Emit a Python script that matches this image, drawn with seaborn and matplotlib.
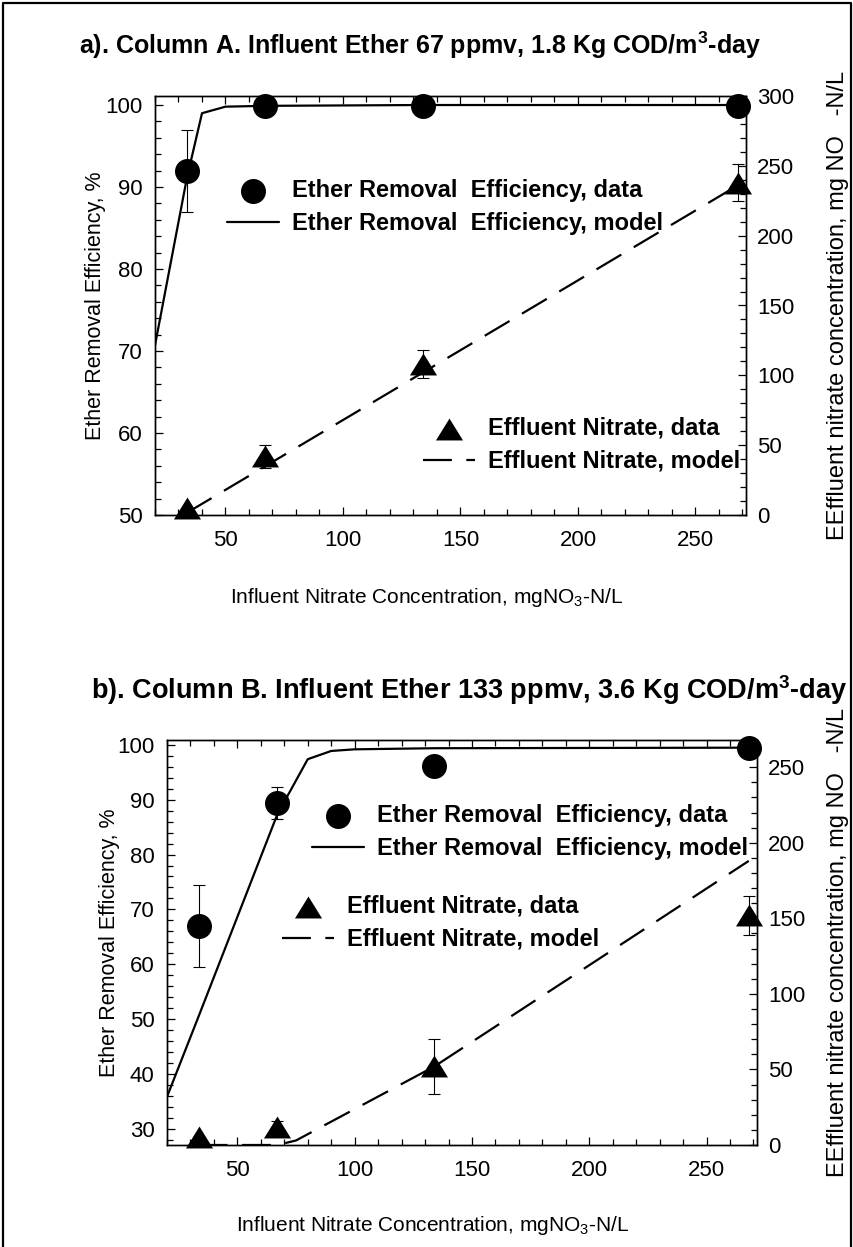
import numpy as np
import pandas as pd
import matplotlib
matplotlib.use("Agg")
import matplotlib.pyplot as plt
import seaborn as sns
from matplotlib.lines import Line2D
from matplotlib.ticker import MultipleLocator

sns.set_theme(style="white")
plt.rcParams["font.family"] = ["Liberation Sans", "DejaVu Sans"]
plt.rcParams["mathtext.fontset"] = "custom"
plt.rcParams["mathtext.rm"] = "Liberation Sans"
plt.rcParams["mathtext.it"] = "Liberation Sans:italic"
plt.rcParams["mathtext.bf"] = "Liberation Sans:bold"

# ---------------- data ----------------
influent = [33.5, 67, 134, 268]

# Panel a (Column A)
a_eff = [92.0, 99.9, 99.9, 99.9]
a_eff_err = [5.0, 0.0, 0.0, 0.0]
a_no3 = [5.0, 42.0, 108.0, 238.0]
a_no3_err = [0.0, 8.0, 10.0, 13.0]
a_model_eff_x = [20, 33.5, 40, 50, 67, 134, 268]
a_model_eff = [70.7, 91.0, 99.0, 99.8, 99.9, 100.0, 100.0]
a_model_no3_x = [33.5, 67, 134, 268]
a_model_no3 = [1.5, 35.0, 102.0, 236.0]

# Panel b (Column B)
b_eff = [67.0, 89.4, 96.2, 99.4]
b_eff_err = [7.5, 2.9, 0.0, 0.0]
b_no3 = [5.0, 12.0, 52.0, 152.0]
b_no3_err = [0.0, 4.0, 18.0, 13.0]
b_model_eff_x = [20, 33.5, 67, 80, 90, 100, 134, 268]
b_model_eff = [35.8, 50.5, 87.3, 97.4, 98.9, 99.2, 99.4, 99.5]
b_model_no3_x = [33.5, 67, 75, 134, 268]
b_model_no3 = [0.0, 0.0, 3.0, 52.0, 188.0]

titles = [
    r"a). Column A. Influent Ether 67 ppmv, 1.8 Kg COD/m$^{\mathbf{3}}$-day",
    r"b). Column B. Influent Ether 133 ppmv, 3.6 Kg COD/m$^{\mathbf{3}}$-day",
]
xlabel = r"Influent Nitrate Concentration, mgNO$_3$-N/L"
ylabel_left = "Ether Removal Efficiency, %"
ylabel_right = "EEffluent nitrate concentration, mg NO   -N/L"
lab_eff_data = "Ether Removal  Efficiency, data"
lab_eff_model = "Ether Removal  Efficiency, model"
lab_no3_data = "Effluent Nitrate, data"
lab_no3_model = "Effluent Nitrate, model"

# ---------------- figure ----------------
W, H = 854, 1247
fig = plt.figure(figsize=(W / 100, H / 100), dpi=100)
fig.patch.set_facecolor("white")


def px_rect(l, t, r, b):
    return [l / W, 1 - b / H, (r - l) / W, (b - t) / H]


tri = [(-1.0, -0.81), (1.0, -0.81), (0.0, 0.81)]
DASH = (0, (13, 6.5))

panels = [
    dict(rect=px_rect(155, 96, 746, 515), ylim=(50, 101.1), y2lim=(0, 300),
         yticks=np.arange(50, 101, 10), y2ticks=np.arange(0, 301, 50),
         eff=a_eff, eff_err=a_eff_err, no3=a_no3, no3_err=a_no3_err,
         mex=a_model_eff_x, me=a_model_eff, mnx=a_model_no3_x, mn=a_model_no3,
         title=titles[0], title_xy=(420, 45), title_fs=18,
         leg1=(227, 179), leg2=(423, 417), xlab_x=0.46, ylab_x=-0.083, y2lab_x=1.137),
    dict(rect=px_rect(167, 740, 757, 1145), ylim=(27, 100.9), y2lim=(0, 268),
         yticks=np.arange(30, 101, 10), y2ticks=np.arange(0, 251, 50),
         eff=b_eff, eff_err=b_eff_err, no3=b_no3, no3_err=b_no3_err,
         mex=b_model_eff_x, me=b_model_eff, mnx=b_model_no3_x, mn=b_model_no3,
         title=titles[1], title_xy=(469, 690), title_fs=19.5,
         leg1=(312, 804), leg2=(282, 895), xlab_x=0.45, ylab_x=-0.08, y2lab_x=1.118),
]

for p in panels:
    ax = fig.add_axes(p["rect"])
    ax2 = ax.twinx()
    ax.set_facecolor("none")

    # model lines
    sns.lineplot(x=p["mex"], y=p["me"], ax=ax, color="black", lw=1.6,
                 label=lab_eff_model, legend=False)
    sns.lineplot(x=p["mnx"], y=p["mn"], ax=ax2, color="black", lw=1.6,
                 linestyle=DASH, label=lab_no3_model, legend=False)

    # error bars
    ax.errorbar(influent, p["eff"], yerr=p["eff_err"], fmt="none", ecolor="black",
                elinewidth=0.8, capsize=4.5, capthick=0.8, zorder=2, clip_on=False)
    ax2.errorbar(influent, p["no3"], yerr=p["no3_err"], fmt="none", ecolor="black",
                 elinewidth=0.8, capsize=4.5, capthick=0.8, zorder=2, clip_on=False)

    # data points
    sns.scatterplot(x=influent, y=p["eff"], ax=ax, color="black", marker="o",
                    s=18 ** 2, linewidth=0, label=lab_eff_data, legend=False,
                    zorder=3, clip_on=False)
    sns.scatterplot(x=influent, y=p["no3"], ax=ax2, color="black", marker=tri,
                    s=19.5 ** 2, linewidth=0, label=lab_no3_data, legend=False,
                    zorder=3, clip_on=False)

    ax.set_xlim(20, 271.5)
    ax.set_ylim(*p["ylim"])
    ax2.set_ylim(*p["y2lim"])
    ax.set_yticks(p["yticks"])
    ax2.set_yticks(p["y2ticks"])
    ax.xaxis.set_major_locator(MultipleLocator(50))
    ax.xaxis.set_minor_locator(MultipleLocator(10))
    ax.yaxis.set_minor_locator(MultipleLocator(2))
    ax2.yaxis.set_minor_locator(MultipleLocator(10))

    for a in (ax, ax2):
        for s in a.spines.values():
            s.set_color("black")
            s.set_linewidth(1.0)
        a.grid(False)
    ax.tick_params(axis="x", which="both", direction="in", top=True, bottom=True,
                   labelsize=16, pad=11, colors="black")
    ax.tick_params(axis="y", which="both", direction="in", left=True, right=False,
                   labelsize=16, pad=9, colors="black")
    ax2.tick_params(axis="y", which="both", direction="in", right=True, left=False,
                    labelsize=16, pad=8, colors="black")
    for a in (ax, ax2):
        a.tick_params(which="major", length=6, width=0.9)
        a.tick_params(which="minor", length=4, width=0.9)
    ax.set_xticks(np.arange(50, 251, 50))

    ax.set_xlabel(xlabel, fontsize=15, color="black")
    ax.xaxis.set_label_coords(p["xlab_x"], -0.17)
    ax.set_ylabel(ylabel_left, fontsize=15.5, color="black")
    ax.yaxis.set_label_coords(p["ylab_x"], 0.5)
    ax2.set_ylabel(ylabel_right, fontsize=17, color="black")
    ax2.yaxis.set_label_coords(p["y2lab_x"], 0.5)
    ax2.set_xlabel("")

    # legends
    h_ed = ax.collections[-1]
    h_em = ax.lines[0]
    h_nd = ax2.collections[-1]
    h_nm = ax2.lines[0]
    common = dict(frameon=False, handlelength=2.2, handletextpad=0.55,
                  labelspacing=0.42, borderpad=0, borderaxespad=0, loc="upper left",
                  scatterpoints=1, numpoints=1, prop={"weight": "bold", "size": 17})
    l1x, l1y = p["leg1"]
    leg1 = ax.legend([h_ed, h_em], [lab_eff_data, lab_eff_model],
                     bbox_to_anchor=(l1x / W, 1 - l1y / H),
                     bbox_transform=fig.transFigure, **common)
    l2x, l2y = p["leg2"]
    leg2 = ax2.legend([h_nd, h_nm], [lab_no3_data, lab_no3_model],
                      bbox_to_anchor=(l2x / W, 1 - l2y / H),
                      bbox_transform=fig.transFigure, **common)
    for lg in (leg1, leg2):
        for t in lg.get_texts():
            t.set_color("black")

    tx, ty = p["title_xy"]
    fig.text(tx / W, 1 - ty / H, p["title"], ha="center", va="center",
             fontsize=p["title_fs"], fontweight="bold", color="black")

# figure border (left, top, right)
bx0, bx1, by = 3 / W, 851 / W, 1 - 3 / H
fig.add_artist(Line2D([bx0, bx0, bx1, bx1], [0, by, by, 0],
                      transform=fig.transFigure, color="black", lw=1.6))

fig.savefig("out.png", dpi=100, facecolor="white")
